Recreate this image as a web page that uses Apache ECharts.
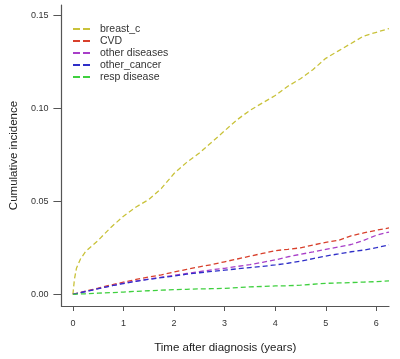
<!DOCTYPE html>
<html>
<head>
<meta charset="utf-8">
<script src="https://cdn.jsdelivr.net/npm/echarts@6/dist/echarts.min.js"></script>
<style>
  html, body { margin: 0; padding: 0; background: #fff; }
  #chart { width: 400px; height: 359px; }
</style>
</head>
<body>
<div id="chart"></div>
<script>
// * cumulative incidence curves
const chart = echarts.init(document.getElementById('chart'))

// time points (years)
const times = [0, 0.03, 0.07, 0.15, 0.25, 0.5, 0.75, 1, 1.25, 1.5, 1.75, 2, 2.25, 2.5, 2.75, 3, 3.25, 3.5, 3.75, 4, 4.25, 4.5, 4.75, 5, 5.25, 5.5, 5.75, 6, 6.25]
const breastC = [0, 0.008, 0.014, 0.019, 0.023, 0.029, 0.036, 0.042, 0.047, 0.051, 0.057, 0.065, 0.071, 0.076, 0.082, 0.088, 0.094, 0.099, 0.103, 0.107, 0.112, 0.116, 0.121, 0.127, 0.131, 0.135, 0.139, 0.141, 0.143]
const cvd = [0, 0.0002, 0.0005, 0.001, 0.0017, 0.0033, 0.005, 0.0065, 0.008, 0.0093, 0.0105, 0.012, 0.0134, 0.0148, 0.016, 0.0175, 0.019, 0.0205, 0.022, 0.0235, 0.0242, 0.025, 0.0265, 0.028, 0.029, 0.0315, 0.033, 0.0345, 0.0357]
const otherDis = [0, 0.0002, 0.0004, 0.0009, 0.0015, 0.003, 0.0045, 0.006, 0.0072, 0.0082, 0.0092, 0.0102, 0.0112, 0.0122, 0.0132, 0.014, 0.015, 0.016, 0.0172, 0.0185, 0.0202, 0.0215, 0.0228, 0.0242, 0.0255, 0.0268, 0.029, 0.0318, 0.0335]
const otherCancer = [0, 0.0002, 0.0004, 0.0009, 0.0015, 0.003, 0.0045, 0.0058, 0.007, 0.008, 0.009, 0.0098, 0.0108, 0.0116, 0.0123, 0.013, 0.0137, 0.0144, 0.015, 0.0158, 0.0167, 0.0178, 0.0192, 0.0206, 0.0217, 0.0229, 0.0238, 0.0251, 0.0266]
const respDis = [0, 0, 0.0001, 0.0002, 0.0003, 0.0006, 0.0009, 0.0012, 0.0016, 0.0019, 0.0022, 0.0025, 0.0027, 0.0029, 0.003, 0.0032, 0.0036, 0.004, 0.0042, 0.0045, 0.0046, 0.0049, 0.0054, 0.0059, 0.0061, 0.0063, 0.0066, 0.0068, 0.0072]

const xTicks = [0, 1, 2, 3, 4, 5, 6]
const yTicks = [0, 0.05, 0.1, 0.15]

const seriesDefs = [
  { name: 'breast_c', data: breastC, color: '#c9c23a' },
  { name: 'CVD', data: cvd, color: '#d8402c' },
  { name: 'other diseases', data: otherDis, color: '#a83fc8' },
  { name: 'other_cancer', data: otherCancer, color: '#2f2fc8' },
  { name: 'resp disease', data: respDis, color: '#3fd03f' }
]

const axisColor = '#555'
const textFont = 'Liberation Sans, Arial, sans-serif'
// two short dashes, like the R legend key
const dashIcon = 'path://M0,0H7V2H0Z M10,0H17V2H10Z'

const option = {
  animation: false,
  backgroundColor: '#fff',
  grid: { left: 53, right: 11, top: 5, bottom: 53 },
  legend: {
    orient: 'vertical',
    left: 73,
    top: 23,
    padding: 0,
    itemWidth: 17,
    itemHeight: 2,
    itemGap: 0,
    symbolKeepAspect: false,
    icon: dashIcon,
    textStyle: { fontSize: 10.5, lineHeight: 12, color: '#333', fontFamily: textFont, padding: [0, 0, 0, 5] },
    data: seriesDefs.map(s => s.name)
  },
  xAxis: {
    type: 'value',
    min: -0.227,
    max: 6.25,
    name: 'Time after diagnosis (years)',
    nameLocation: 'middle',
    nameGap: 36,
    nameTextStyle: { fontSize: 11.5, color: '#222', fontFamily: textFont },
    splitLine: { show: false },
    axisLine: { show: true, onZero: false, lineStyle: { color: axisColor, width: 1.2 } },
    axisTick: { show: true, customValues: xTicks, length: 5, lineStyle: { color: axisColor } },
    axisLabel: {
      customValues: xTicks,
      margin: 13,
      fontSize: 9,
      color: '#333',
      fontFamily: textFont
    }
  },
  yAxis: {
    type: 'value',
    min: -0.0063,
    max: 0.1557,
    name: 'Cumulative incidence',
    nameLocation: 'middle',
    nameGap: 37,
    nameTextStyle: { fontSize: 11.5, color: '#222', fontFamily: textFont },
    splitLine: { show: false },
    axisLine: { show: true, onZero: false, lineStyle: { color: axisColor, width: 1.2 } },
    axisTick: { show: true, customValues: yTicks, length: 8, lineStyle: { color: axisColor } },
    axisLabel: {
      customValues: yTicks,
      margin: 13,
      fontSize: 9,
      color: '#333',
      fontFamily: textFont,
      formatter: v => v.toFixed(2)
    }
  },
  series: seriesDefs.map(s => ({
    name: s.name,
    type: 'line',
    symbol: 'none',
    color: s.color,
    data: times.map((t, i) => [t, s.data[i]]),
    lineStyle: { color: s.color, width: 1.3, type: [5, 3] }
  }))
}

chart.setOption(option)
</script>
</body>
</html>
